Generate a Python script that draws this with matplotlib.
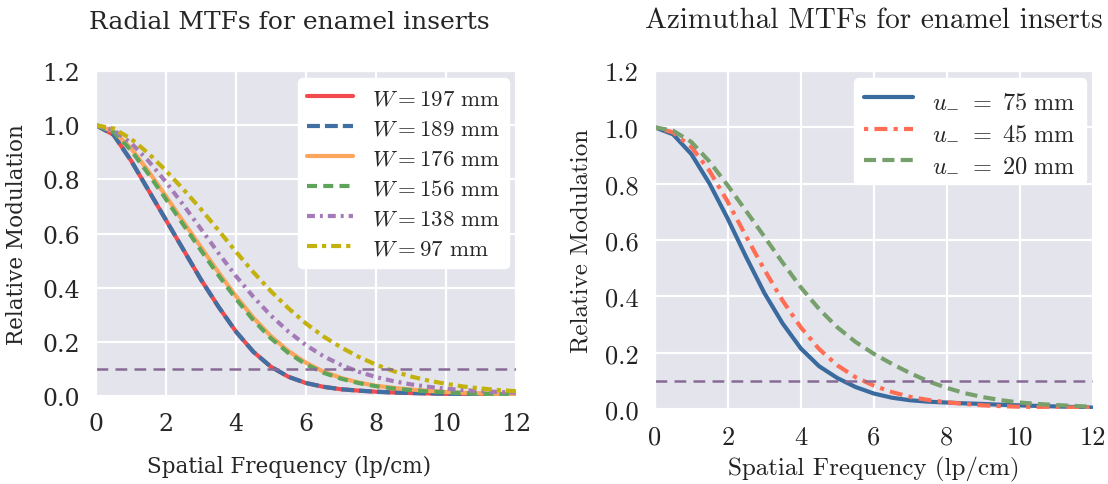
import matplotlib
matplotlib.use('Agg')
import matplotlib.pyplot as plt
import seaborn as sns

# spatial frequency grid (lp/cm)
freq = [0, 0.5, 1, 1.5, 2, 2.5, 3, 3.5, 4, 4.5, 5, 5.5, 6,
        6.5, 7, 7.5, 8, 8.5, 9, 9.5, 10, 10.5, 11, 11.5, 12]

# radial MTFs, one per insert width
radial_labels = ['197', '189', '176', '156', '138', '97']
mtf_w197 = [1.0, 0.965, 0.87, 0.76, 0.65, 0.54, 0.43, 0.33, 0.238, 0.163, 0.108, 0.071, 0.048,
            0.034, 0.025, 0.02, 0.016, 0.013, 0.011, 0.0095, 0.008, 0.0065, 0.005, 0.004, 0.003]
mtf_w189 = [1.0, 0.965, 0.87, 0.76, 0.65, 0.54, 0.43, 0.33, 0.238, 0.163, 0.108, 0.071, 0.048,
            0.034, 0.025, 0.02, 0.016, 0.013, 0.011, 0.0095, 0.008, 0.0065, 0.005, 0.004, 0.003]
mtf_w176 = [1.0, 0.978, 0.915, 0.83, 0.738, 0.643, 0.55, 0.457, 0.369, 0.289, 0.221, 0.166, 0.123,
            0.09, 0.067, 0.05, 0.038, 0.03, 0.024, 0.019, 0.015, 0.012, 0.01, 0.008, 0.007]
mtf_w156 = [1.0, 0.975, 0.908, 0.82, 0.727, 0.632, 0.538, 0.446, 0.359, 0.28, 0.213, 0.159, 0.117,
            0.086, 0.064, 0.048, 0.036, 0.028, 0.022, 0.017, 0.014, 0.011, 0.009, 0.007, 0.006]
mtf_w138 = [1.0, 0.982, 0.935, 0.868, 0.79, 0.705, 0.617, 0.528, 0.443, 0.366, 0.297, 0.238, 0.188,
            0.147, 0.115, 0.09, 0.07, 0.055, 0.043, 0.034, 0.027, 0.022, 0.018, 0.015, 0.012]
mtf_w97 = [1.0, 0.988, 0.95, 0.896, 0.832, 0.763, 0.69, 0.612, 0.533, 0.457, 0.387, 0.324, 0.268,
           0.22, 0.18, 0.145, 0.116, 0.092, 0.072, 0.057, 0.045, 0.035, 0.028, 0.022, 0.018]

# azimuthal MTFs
azim_labels = ['75', '45', '20']
mtf_u75 = [1.0, 0.975, 0.905, 0.8, 0.675, 0.54, 0.412, 0.304, 0.215, 0.152, 0.11, 0.078, 0.055,
           0.04, 0.031, 0.026, 0.023, 0.02, 0.018, 0.015, 0.013, 0.011, 0.009, 0.007, 0.005]
mtf_u45 = [1.0, 0.982, 0.93, 0.845, 0.735, 0.613, 0.495, 0.385, 0.29, 0.213, 0.155, 0.113, 0.083,
           0.06, 0.043, 0.032, 0.024, 0.018, 0.013, 0.01, 0.008, 0.007, 0.006, 0.005, 0.004]
mtf_u20 = [1.0, 0.988, 0.948, 0.878, 0.793, 0.703, 0.612, 0.52, 0.432, 0.355, 0.29, 0.238, 0.196,
           0.16, 0.127, 0.098, 0.075, 0.056, 0.042, 0.031, 0.023, 0.018, 0.014, 0.011, 0.008]

threshold = 0.1
xticks = [0, 2, 4, 6, 8, 10, 12]
yticks = [0.0, 0.2, 0.4, 0.6, 0.8, 1.0, 1.2]

if __name__ == '__main__':

    sns.set_style('darkgrid')
    plt.rcParams['font.family'] = ['DejaVu Serif']
    plt.rcParams['mathtext.fontset'] = 'cm'
    plt.rcParams['axes.facecolor'] = '#e4e4ed'
    plt.rcParams['grid.linewidth'] = 1.6

    fig = plt.figure(figsize=(11.08, 4.85), dpi=100)
    ax1 = fig.add_axes([0.0866, 0.1814, 0.379, 0.670])
    ax2 = fig.add_axes([0.591, 0.1546, 0.3953, 0.697])

    # ---- left: radial
    radial = [mtf_w197, mtf_w189, mtf_w176, mtf_w156, mtf_w138, mtf_w97]
    colors = ['#f24a4d', '#3f6fa3', '#fca55c', '#5ea55a', '#a57bb7', '#c3b20e']
    dashes = [None, (3.1, 1.2), None, (2.4, 1.5), (1.9, 1.2, 0.7, 1.2), (2.4, 1.2, 1.0, 1.2)]
    for vals, lab, c, d in zip(radial, radial_labels, colors, dashes):
        line, = ax1.plot(freq, vals, color=c, lw=3, label=r'$W = %s\ \mathrm{mm}$' % lab)
        if d is not None:
            line.set_dashes(d)
    ax1.axhline(threshold, color='#886b95', lw=1.8, dashes=(4.7, 2.9))
    ax1.set_xlim(0, 12)
    ax1.set_ylim(0, 1.2)
    ax1.set_xticks(xticks)
    ax1.set_yticks(yticks)
    ax1.tick_params(labelsize=17, colors='#262626', pad=8)
    ax1.set_title('Radial MTFs for enamel inserts', fontsize=18, color='#262626', pad=31, x=0.46)
    ax1.set_xlabel('Spatial Frequency (lp/cm)', fontsize=15.5, color='#262626', labelpad=14, x=0.46)
    ax1.set_ylabel('Relative Modulation', fontsize=15.5, color='#262626', labelpad=10)
    leg1 = ax1.legend(loc='upper right', fontsize=16.5, frameon=True, handlelength=2.0,
                      borderaxespad=0.3, labelspacing=0.35)
    leg1.get_frame().set_facecolor('white')
    leg1.get_frame().set_edgecolor('white')
    leg1.get_frame().set_alpha(1)

    # ---- right: azimuthal (computer modern text)
    azim = [mtf_u75, mtf_u45, mtf_u20]
    colors2 = ['#3a6b9f', '#ff6e54', '#77a06d']
    dashes2 = [None, (1.0, 1.5, 3.1, 1.5), (2.9, 1.5)]
    for vals, lab, c, d in zip(azim, azim_labels, colors2, dashes2):
        line, = ax2.plot(freq, vals, color=c, lw=3, label=r'$u_{-}\ =\ %s\ \mathrm{mm}$' % lab)
        if d is not None:
            line.set_dashes(d)
    ax2.axhline(threshold, color='#886b95', lw=1.8, dashes=(4.7, 2.9))
    ax2.set_xlim(0, 12)
    ax2.set_ylim(0, 1.2)
    ax2.set_xticks(xticks)
    ax2.set_yticks(yticks)
    ax2.set_xticklabels([str(t) for t in xticks], fontfamily='cmr10')
    ax2.set_yticklabels(['%.1f' % t for t in yticks], fontfamily='cmr10')
    ax2.tick_params(labelsize=19, colors='#222222', pad=8)
    ax2.set_title('Azimuthal MTFs for enamel inserts', fontsize=21, color='#222222',
                  fontfamily='cmr10', pad=32)
    ax2.set_xlabel('Spatial Frequency (lp/cm)', fontsize=18, color='#222222',
                   fontfamily='cmr10', labelpad=5)
    ax2.set_ylabel('Relative Modulation', fontsize=18, color='#222222',
                   fontfamily='cmr10', labelpad=9)
    leg2 = ax2.legend(loc='upper right', fontsize=17.5, frameon=True, handlelength=2.0,
                      borderaxespad=0.3, labelspacing=0.35)
    leg2.get_frame().set_facecolor('white')
    leg2.get_frame().set_edgecolor('white')
    leg2.get_frame().set_alpha(1)

    fig.savefig('out.png', dpi=100)
